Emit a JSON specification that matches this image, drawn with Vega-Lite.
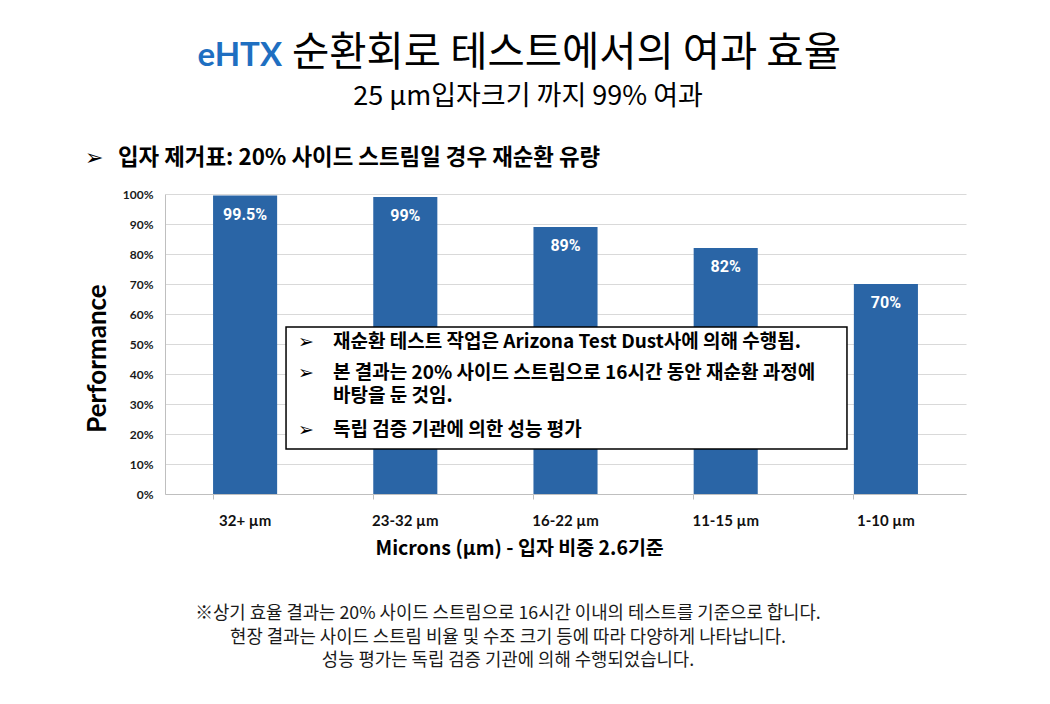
{
  "$schema": "https://vega.github.io/schema/vega-lite/v6.json",
  "width": 801,
  "height": 300,
  "autosize": "none",
  "padding": {"left": 165, "top": 194, "right": 84, "bottom": 210},
  "background": "white",
  "config": {"view": {"stroke": null}, "font": "Noto Sans CJK KR"},
  "datasets": {
    "bars": [
      {"size": "32+ µm", "performance": 0.995},
      {"size": "23-32 µm", "performance": 0.99},
      {"size": "16-22 µm", "performance": 0.89},
      {"size": "11-15 µm", "performance": 0.82},
      {"size": "1-10 µm", "performance": 0.70}
    ],
    "one": [{}]
  },
  "resolve": {"scale": {"x": "independent", "y": "independent"}},
  "layer": [
    {
      "data": {"name": "bars"},
      "encoding": {
        "x": {
          "field": "size", "type": "nominal", "sort": null,
          "scale": {"paddingInner": 0.6, "paddingOuter": 0.3},
          "axis": {
            "title": "Microns (µm)  - 입자 비중 2.6기준",
            "labelAngle": 0, "labelFont": "Lato", "labelFontWeight": "bold", "labelFontSize": 15, "labelColor": "#111111",
            "labelBaseline": "middle", "labelPadding": 21,
            "tickSize": 5, "tickColor": "#bfbfbf", "domainColor": "#bfbfbf", "bandPosition": 0,
            "titleX": 210, "titleY": 54, "titleAlign": "left", "titleBaseline": "middle",
            "titleFont": "Noto Sans CJK KR", "titleFontSize": 19.5, "titleFontWeight": "bold", "titleColor": "#000000"
          }
        },
        "y": {
          "field": "performance", "type": "quantitative",
          "scale": {"domain": [0, 1], "nice": false},
          "axis": {
            "values": [0, 0.1, 0.2, 0.3, 0.4, 0.5, 0.6, 0.7, 0.8, 0.9, 1],
            "format": ".0%", "title": "Performance",
            "labelFont": "Lato", "labelFontWeight": "bold", "labelFontSize": 12, "labelColor": "#1a1a1a",
            "labelPadding": 12, "ticks": false, "tickSize": 0,
            "domainColor": "#bfbfbf", "gridColor": "#d9d9d9",
            "titleFont": "Lato", "titleFontSize": 26, "titleFontWeight": "bold", "titleColor": "#000000",
            "titleX": -68, "titleY": 164, "titleAngle": 270, "titleAlign": "center", "titleBaseline": "middle"
          }
        }
      },
      "layer": [
        {"mark": {"type": "bar", "color": "#2a65a6"}},
        {
          "mark": {"type": "text", "color": "white", "font": "Roboto", "fontWeight": "bold", "fontSize": 16, "baseline": "middle", "dy": 19},
          "encoding": {"text": {"field": "performance", "type": "quantitative", "format": ".1~%"}}
        }
      ]
    },
    {
      "data": {"name": "one"},
      "mark": {"type": "text", "text": "eHTX", "font": "Lato", "fontWeight": "bold", "fontSize": 33, "color": "#1f6fc1", "align": "right", "baseline": "alphabetic"},
      "encoding": {
        "x": {"datum": 0.1461, "type": "quantitative", "scale": {"domain": [0, 1], "nice": false, "zero": false}, "axis": null},
        "y": {"datum": 1.4267, "type": "quantitative", "scale": {"domain": [0, 1], "nice": false, "zero": false}, "axis": null}
      }
    },
    {
      "data": {"name": "one"},
      "mark": {"type": "text", "text": "순환회로 테스트에서의 여과 효율", "font": "Noto Sans CJK KR", "fontSize": 40.5, "color": "#000000", "align": "left", "baseline": "alphabetic"},
      "encoding": {
        "x": {"datum": 0.1586, "type": "quantitative", "scale": {"domain": [0, 1], "nice": false, "zero": false}, "axis": null},
        "y": {"datum": 1.4267, "type": "quantitative", "scale": {"domain": [0, 1], "nice": false, "zero": false}, "axis": null}
      }
    },
    {
      "data": {"name": "one"},
      "mark": {"type": "text", "text": "25 µm입자크기 까지 99% 여과", "font": "Noto Sans CJK KR", "fontSize": 27, "color": "#000000", "align": "center", "baseline": "middle"},
      "encoding": {
        "x": {"datum": 0.4532, "type": "quantitative", "scale": {"domain": [0, 1], "nice": false, "zero": false}, "axis": null},
        "y": {"datum": 1.325, "type": "quantitative", "scale": {"domain": [0, 1], "nice": false, "zero": false}, "axis": null}
      }
    },
    {
      "data": {"name": "one"},
      "mark": {"type": "text", "text": "➢", "font": "DejaVu Sans", "fontSize": 22, "color": "#000000", "align": "left", "baseline": "middle"},
      "encoding": {
        "x": {"datum": -0.0999, "type": "quantitative", "scale": {"domain": [0, 1], "nice": false, "zero": false}, "axis": null},
        "y": {"datum": 1.12, "type": "quantitative", "scale": {"domain": [0, 1], "nice": false, "zero": false}, "axis": null}
      }
    },
    {
      "data": {"name": "one"},
      "mark": {"type": "text", "text": "입자 제거표: 20% 사이드 스트림일 경우 재순환 유량", "font": "Noto Sans CJK KR", "fontSize": 22.4, "fontWeight": "bold", "color": "#000000", "align": "left", "baseline": "middle"},
      "encoding": {
        "x": {"datum": -0.0587, "type": "quantitative", "scale": {"domain": [0, 1], "nice": false, "zero": false}, "axis": null},
        "y": {"datum": 1.12, "type": "quantitative", "scale": {"domain": [0, 1], "nice": false, "zero": false}, "axis": null}
      }
    },
    {
      "data": {"name": "one"},
      "mark": {"type": "rect", "fill": "white", "stroke": "#000000", "strokeWidth": 1.5},
      "encoding": {
        "x": {"datum": 0.1511, "type": "quantitative", "scale": {"domain": [0, 1], "nice": false, "zero": false}, "axis": null},
        "x2": {"datum": 0.8514},
        "y": {"datum": 0.5567, "type": "quantitative", "scale": {"domain": [0, 1], "nice": false, "zero": false}, "axis": null},
        "y2": {"datum": 0.15}
      }
    },
    {
      "data": {"name": "one"},
      "mark": {"type": "text", "text": "➢", "font": "DejaVu Sans", "fontSize": 19, "color": "#000000", "align": "left", "baseline": "middle"},
      "encoding": {
        "x": {"datum": 0.166, "type": "quantitative", "scale": {"domain": [0, 1], "nice": false, "zero": false}, "axis": null},
        "y": {"datum": 0.5067, "type": "quantitative", "scale": {"domain": [0, 1], "nice": false, "zero": false}, "axis": null}
      }
    },
    {
      "data": {"name": "one"},
      "mark": {"type": "text", "text": "➢", "font": "DejaVu Sans", "fontSize": 19, "color": "#000000", "align": "left", "baseline": "middle"},
      "encoding": {
        "x": {"datum": 0.166, "type": "quantitative", "scale": {"domain": [0, 1], "nice": false, "zero": false}, "axis": null},
        "y": {"datum": 0.4033, "type": "quantitative", "scale": {"domain": [0, 1], "nice": false, "zero": false}, "axis": null}
      }
    },
    {
      "data": {"name": "one"},
      "mark": {"type": "text", "text": "➢", "font": "DejaVu Sans", "fontSize": 19, "color": "#000000", "align": "left", "baseline": "middle"},
      "encoding": {
        "x": {"datum": 0.166, "type": "quantitative", "scale": {"domain": [0, 1], "nice": false, "zero": false}, "axis": null},
        "y": {"datum": 0.2133, "type": "quantitative", "scale": {"domain": [0, 1], "nice": false, "zero": false}, "axis": null}
      }
    },
    {
      "data": {"name": "one"},
      "mark": {"type": "text", "text": "재순환 테스트 작업은 Arizona Test Dust사에 의해 수행됨.", "font": "Noto Sans CJK KR", "fontSize": 19, "fontWeight": "bold", "color": "#000000", "align": "left", "baseline": "middle"},
      "encoding": {
        "x": {"datum": 0.2097, "type": "quantitative", "scale": {"domain": [0, 1], "nice": false, "zero": false}, "axis": null},
        "y": {"datum": 0.5067, "type": "quantitative", "scale": {"domain": [0, 1], "nice": false, "zero": false}, "axis": null}
      }
    },
    {
      "data": {"name": "one"},
      "mark": {"type": "text", "text": ["본 결과는 20% 사이드 스트림으로 16시간 동안 재순환 과정에", "바탕을 둔 것임."], "lineHeight": 23, "font": "Noto Sans CJK KR", "fontSize": 19, "fontWeight": "bold", "color": "#000000", "align": "left", "baseline": "middle"},
      "encoding": {
        "x": {"datum": 0.2097, "type": "quantitative", "scale": {"domain": [0, 1], "nice": false, "zero": false}, "axis": null},
        "y": {"datum": 0.4033, "type": "quantitative", "scale": {"domain": [0, 1], "nice": false, "zero": false}, "axis": null}
      }
    },
    {
      "data": {"name": "one"},
      "mark": {"type": "text", "text": "독립 검증 기관에 의한 성능 평가", "font": "Noto Sans CJK KR", "fontSize": 19, "fontWeight": "bold", "color": "#000000", "align": "left", "baseline": "middle"},
      "encoding": {
        "x": {"datum": 0.2097, "type": "quantitative", "scale": {"domain": [0, 1], "nice": false, "zero": false}, "axis": null},
        "y": {"datum": 0.2133, "type": "quantitative", "scale": {"domain": [0, 1], "nice": false, "zero": false}, "axis": null}
      }
    },
    {
      "data": {"name": "one"},
      "mark": {"type": "text", "text": ["※상기 효율 결과는 20% 사이드 스트림으로 16시간 이내의 테스트를 기준으로 합니다.", "현장 결과는 사이드 스트림 비율 및 수조 크기 등에 따라 다양하게 나타납니다.", "성능 평가는 독립 검증 기관에 의해 수행되었습니다."], "lineHeight": 23.5, "font": "Noto Sans CJK KR", "fontSize": 17.8, "color": "#1a1a1a", "align": "center", "baseline": "middle"},
      "encoding": {
        "x": {"datum": 0.4282, "type": "quantitative", "scale": {"domain": [0, 1], "nice": false, "zero": false}, "axis": null},
        "y": {"datum": -0.4, "type": "quantitative", "scale": {"domain": [0, 1], "nice": false, "zero": false}, "axis": null}
      }
    }
  ]
}
